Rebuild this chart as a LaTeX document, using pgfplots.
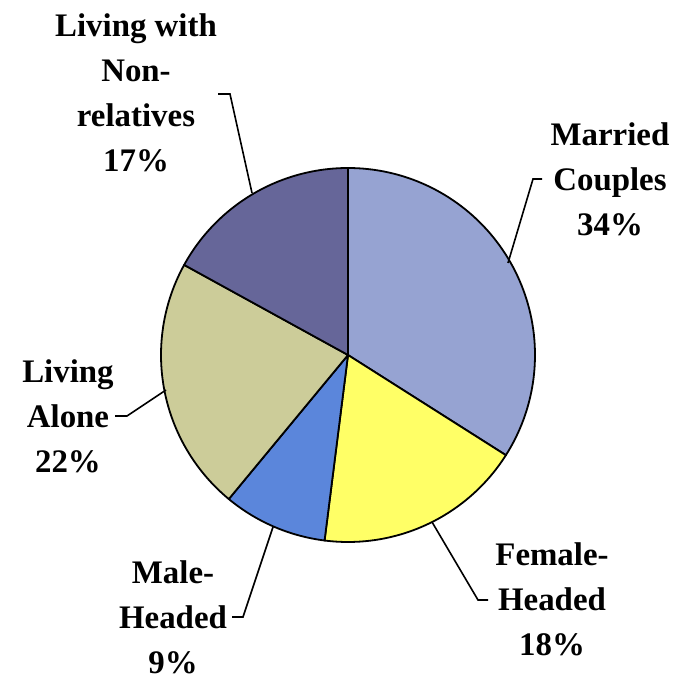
\documentclass[border=0pt]{standalone}
\usepackage{pgfplots}
\pgfplotsset{compat=1.18}
\usepackage{fontspec}
\setmainfont{Liberation Serif}
\definecolor{cMar}{RGB}{150,163,210}
\definecolor{cFem}{RGB}{255,255,102}
\definecolor{cMal}{RGB}{91,134,219}
\definecolor{cAlo}{RGB}{204,204,153}
\definecolor{cNon}{RGB}{102,102,153}
% shares (percent), clockwise from 12 o'clock
\def\vMar{34}\def\vFem{18}\def\vMal{9}\def\vAlo{22}\def\vNon{17}
\tikzset{lbl/.style={font=\bfseries\fontsize{33}{45}\selectfont, align=center, text=black, inner sep=0pt}}
\begin{document}
\begin{tikzpicture}
\begin{axis}[
  width=684bp, height=681bp, scale only axis,
  xmin=0, xmax=684, ymin=0, ymax=681,
  hide axis, clip=false,
]
\pgfmathsetmacro{\aA}{90}
\pgfmathsetmacro{\aB}{\aA-3.6*\vMar}
\pgfmathsetmacro{\aC}{\aB-3.6*\vFem}
\pgfmathsetmacro{\aD}{\aC-3.6*\vMal}
\pgfmathsetmacro{\aE}{\aD-3.6*\vAlo}
\pgfmathsetmacro{\aF}{\aE-3.6*\vNon}
\def\cx{348}\def\cy{326}\def\R{187}
\addplot[fill=cMar, draw=black, line width=1.8bp, line join=round, domain=\aA:\aB, samples=80] ({\cx+\R*cos(x)},{\cy+\R*sin(x)}) -- (axis cs:\cx,\cy) -- cycle;
\addplot[fill=cFem, draw=black, line width=1.8bp, line join=round, domain=\aB:\aC, samples=60] ({\cx+\R*cos(x)},{\cy+\R*sin(x)}) -- (axis cs:\cx,\cy) -- cycle;
\addplot[fill=cMal, draw=black, line width=1.8bp, line join=round, domain=\aC:\aD, samples=40] ({\cx+\R*cos(x)},{\cy+\R*sin(x)}) -- (axis cs:\cx,\cy) -- cycle;
\addplot[fill=cAlo, draw=black, line width=1.8bp, line join=round, domain=\aD:\aE, samples=60] ({\cx+\R*cos(x)},{\cy+\R*sin(x)}) -- (axis cs:\cx,\cy) -- cycle;
\addplot[fill=cNon, draw=black, line width=1.8bp, line join=round, domain=\aE:\aF, samples=60] ({\cx+\R*cos(x)},{\cy+\R*sin(x)}) -- (axis cs:\cx,\cy) -- cycle;
% leader lines
\addplot[black, line width=1.6bp] coordinates {(542,502) (533,502) (508,418)};
\addplot[black, line width=1.6bp] coordinates {(218,587) (230,587) (252,488)};
\addplot[black, line width=1.6bp] coordinates {(115,265) (127,265) (166,291)};
\addplot[black, line width=1.6bp] coordinates {(232,64) (243,64) (273,154)};
\addplot[black, line width=1.6bp] coordinates {(488,81) (478,81) (432,159)};
% labels
\node[lbl] at (axis cs:610,502) {Married\\Couples\\34\%};
\node[lbl] at (axis cs:136,588) {Living with\\Non-\\relatives\\17\%};
\node[lbl] at (axis cs:68,265) {Living\\Alone\\22\%};
\node[lbl] at (axis cs:173,64) {Male-\\Headed\\9\%};
\node[lbl] at (axis cs:552,82) {Female-\\Headed\\18\%};
\end{axis}
\pgfresetboundingbox
\path (current axis.south west) rectangle (current axis.north east);
\end{tikzpicture}
\end{document}
